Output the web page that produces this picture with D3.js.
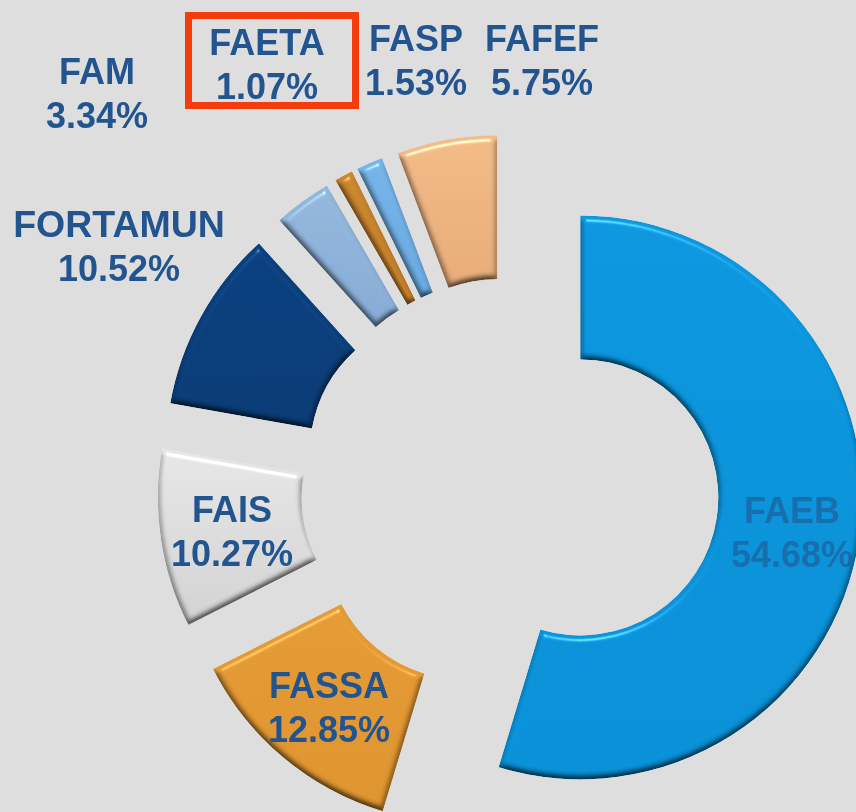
<!DOCTYPE html>
<html>
<head>
<meta charset="utf-8">
<script src="https://cdn.jsdelivr.net/npm/d3@7"></script>
<style>
    html, body { margin: 0; padding: 0; background: #dedede; }
    svg { display: block; }
    .lbl { font-family: "Liberation Sans", Arial, sans-serif; font-weight: bold; font-size: 36px; fill: #245490; text-anchor: middle; }
</style>
</head>
<body>
<div id="chart"></div>
<script>
// values, clockwise from 12 o'clock
let names = ["FAEB", "FASSA", "FAIS", "FORTAMUN", "FAM", "FAETA", "FASP", "FAFEF"]
let shares = [54.68, 12.85, 10.27, 10.52, 3.34, 1.07, 1.53, 5.75]
let colorsTop = ["#0c97de", "#e49b36", "#e6e6e6", "#0a4080", "#94b7dc", "#cc8630", "#76b4e8", "#f2bb88"]
let colorsBottom = ["#0a90d6", "#de942f", "#d2d2d2", "#0a3c76", "#86abd4", "#c07c28", "#68a8e0", "#e6ab78"]

let width = 856, height = 812
let cx = 510, cy = 487
let outerR = 282, innerR = 138, explode = 71

let svg = d3.select("#chart").append("svg")
    .attr("width", width)
    .attr("height", height)

let defs = svg.append("defs")

// bevel look of the slices
let bevel = defs.append("filter").attr("id", "bevel")
    .attr("x", "-10%").attr("y", "-10%").attr("width", "120%").attr("height", "120%")
    .attr("color-interpolation-filters", "sRGB")
bevel.append("feGaussianBlur").attr("in", "SourceAlpha").attr("stdDeviation", 3).attr("result", "soft")
let diffuse = bevel.append("feDiffuseLighting").attr("in", "soft").attr("surfaceScale", 3.5)
    .attr("diffuseConstant", 1.155).attr("lighting-color", "#fff").attr("result", "diff")
diffuse.append("feDistantLight").attr("azimuth", 270).attr("elevation", 60)
bevel.append("feComposite").attr("in", "SourceGraphic").attr("in2", "diff")
    .attr("operator", "arithmetic").attr("k1", 1).attr("k2", 0).attr("k3", 0).attr("k4", 0).attr("result", "lit")
let spec = bevel.append("feSpecularLighting").attr("in", "soft").attr("surfaceScale", 4)
    .attr("specularConstant", 0.35).attr("specularExponent", 70).attr("lighting-color", "#fff").attr("result", "sp")
spec.append("feDistantLight").attr("azimuth", 265).attr("elevation", 50)
bevel.append("feComposite").attr("in", "sp").attr("in2", "SourceAlpha").attr("operator", "in").attr("result", "spIn")
bevel.append("feComposite").attr("in", "lit").attr("in2", "spIn")
    .attr("operator", "arithmetic").attr("k1", 0).attr("k2", 1).attr("k3", 1).attr("k4", 0).attr("result", "shaded")
bevel.append("feComposite").attr("in", "shaded").attr("in2", "SourceAlpha").attr("operator", "in")

let soft = defs.append("filter").attr("id", "softText")
soft.append("feGaussianBlur").attr("stdDeviation", 0.6)

names.forEach((n, i) => {
    let g = defs.append("linearGradient").attr("id", "grad" + i)
        .attr("x1", 0).attr("y1", 0).attr("x2", 0).attr("y2", 1)
    g.append("stop").attr("offset", "0%").attr("stop-color", colorsTop[i])
    g.append("stop").attr("offset", "100%").attr("stop-color", colorsBottom[i])
})

let pie = d3.pie().sort(null).value(d => d)
let arc = d3.arc().innerRadius(innerR).outerRadius(outerR)
let slices = pie(shares)

svg.selectAll("path.slice")
    .data(slices)
    .enter()
    .append("path")
    .attr("class", "slice")
    .attr("d", arc)
    .attr("transform", d => {
        let mid = (d.startAngle + d.endAngle) / 2
        return "translate(" + (cx + explode * Math.sin(mid)) + "," + (cy - explode * Math.cos(mid)) + ")"
    })
    .attr("fill", (d, i) => "url(#grad" + i + ")")
    .attr("filter", "url(#bevel)")

// labels were placed by hand in the original
let labelSpots = [[792, 510], [329, 685], [232, 509], [119, 224], [97, 71], [267, 42], [416, 38], [542, 38]]

let labels = svg.selectAll("g.label")
    .data(names)
    .enter()
    .append("g")
    .attr("class", "label")
    .attr("filter", "url(#softText)")
    .attr("transform", (d, i) => "translate(" + labelSpots[i][0] + "," + labelSpots[i][1] + ")")
    .attr("opacity", (d, i) => i == 0 ? 0.6 : 1)

labels.append("text").attr("class", "lbl").attr("y", 13)
    .style("font-size", d => d == "FORTAMUN" ? "37.5px" : null)
    .text(d => d)
labels.append("text").attr("class", "lbl").attr("y", 57)
    .text((d, i) => shares[i].toFixed(2) + "%")

// red box around FAETA
svg.append("rect")
    .attr("x", 188.5).attr("y", 15.5)
    .attr("width", 167).attr("height", 90)
    .attr("fill", "none")
    .attr("stroke", "#f53c0c")
    .attr("stroke-width", 7)
</script>
</body>
</html>
